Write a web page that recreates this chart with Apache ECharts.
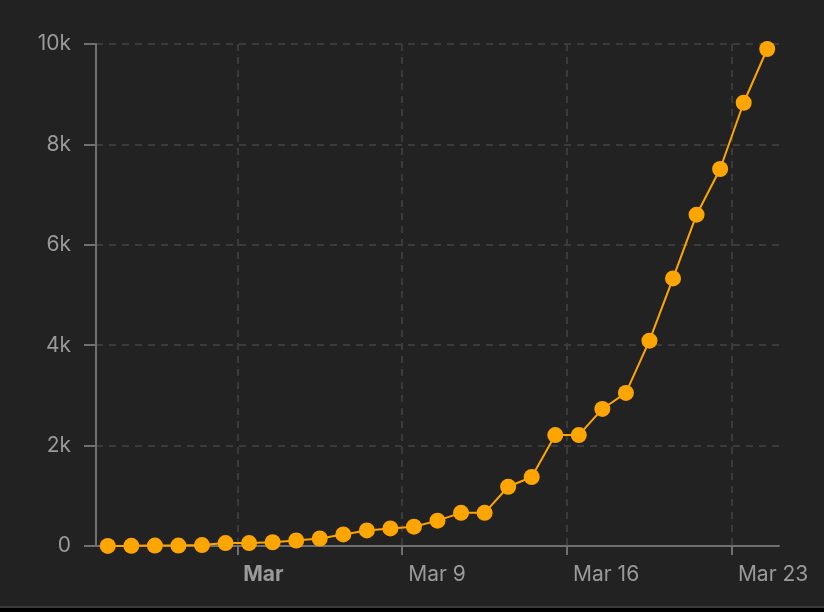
<!DOCTYPE html>
<html>
<head>
<meta charset="utf-8">
<script src="https://cdn.jsdelivr.net/npm/echarts@6/dist/echarts.min.js"></script>
<style>
  html, body { margin: 0; padding: 0; background: #222222; }
  #chart { width: 824px; height: 612px; }
</style>
</head>
<body>
<div id="chart"></div>
<script>
const dates = ['2020-02-25','2020-02-26','2020-02-27','2020-02-28','2020-02-29',
  '2020-03-01','2020-03-02','2020-03-03','2020-03-04','2020-03-05','2020-03-06','2020-03-07','2020-03-08',
  '2020-03-09','2020-03-10','2020-03-11','2020-03-12','2020-03-13','2020-03-14','2020-03-15',
  '2020-03-16','2020-03-17','2020-03-18','2020-03-19','2020-03-20','2020-03-21','2020-03-22',
  '2020-03-23','2020-03-24'];
const cases = [2, 3, 8, 8, 18, 58, 58, 75, 110, 150, 230, 310, 350, 385, 505, 660, 660,
  1180, 1375, 2210, 2210, 2730, 3050, 4090, 5330, 6600, 7510, 8830, 9900];
const xTickDates = ['2020-03-02','2020-03-09','2020-03-16','2020-03-23'];
const xTickLabels = ['Mar','Mar 9','Mar 16','Mar 23'];
const xRange = ['2020-02-25','2020-03-25'];
const yTicks = [0, 2000, 4000, 6000, 8000, 10000];
const yTickLabels = ['0','2k','4k','6k','8k','10k'];

const DAY = 86400000;
const t0 = Date.parse(xRange[0] + 'T00:00:00Z');
const dayOf = d => (Date.parse(d + 'T00:00:00Z') - t0) / DAY;   // days since start of axis
const seriesData = dates.map((d, i) => [dayOf(d) + 0.5, cases[i]]); // points at midday
const tickDays = xTickDates.map(dayOf);

const chart = echarts.init(document.getElementById('chart'));
const FONT = 'Inter, "Noto Sans", sans-serif';
const GRID = { color: '#3b3b3b', type: [7, 6], width: 2 };
const AXIS = { color: '#707070', width: 2 };
chart.setOption({
  backgroundColor: '#222222',
  animation: false,
  grid: { left: 96, right: 45, top: 44, bottom: 66, containLabel: false },
  xAxis: {
    type: 'value',
    min: dayOf(xRange[0]),
    max: dayOf(xRange[1]),
    axisLine: { show: true, onZero: false, lineStyle: AXIS },
    axisTick: { show: true, length: 9, customValues: tickDays, lineStyle: AXIS },
    axisLabel: {
      customValues: tickDays,
      align: 'left',
      margin: 18,
      padding: [0, 0, 0, 6],
      color: '#9a9a9a',
      fontFamily: FONT,
      fontSize: 21,
      formatter: function (v) {
        const i = tickDays.indexOf(v);
        const t = i >= 0 ? xTickLabels[i] : '';
        return i === 0 ? '{b|' + t + '}' : t;
      },
      rich: { b: { fontWeight: 'bold', color: '#9a9a9a', fontFamily: FONT, fontSize: 21 } }
    },
    splitLine: { show: true, lineStyle: GRID }
  },
  yAxis: {
    type: 'value',
    min: yTicks[0],
    max: yTicks[yTicks.length - 1],
    interval: yTicks[1] - yTicks[0],
    axisLine: { show: true, lineStyle: AXIS },
    axisTick: { show: true, length: 12, lineStyle: AXIS },
    axisLabel: {
      margin: 25,
      color: '#9a9a9a',
      fontFamily: FONT,
      fontSize: 21,
      formatter: function (v) {
        const i = yTicks.indexOf(v);
        return i >= 0 ? yTickLabels[i] : '';
      }
    },
    splitLine: { show: true, lineStyle: GRID }
  },
  series: [{
    type: 'line',
    data: seriesData,
    clip: false,
    symbol: 'circle',
    symbolSize: 16,
    showAllSymbol: true,
    itemStyle: { color: '#ffa500' },
    lineStyle: { color: '#ffa500', width: 2 }
  }],
  graphic: [
    { type: 'rect', left: 0, top: 606, shape: { width: 824, height: 2 }, style: { fill: '#3a3a3a' }, silent: true },
    { type: 'rect', left: 0, top: 608, shape: { width: 824, height: 4 }, style: { fill: '#000000' }, silent: true }
  ]
});
</script>
</body>
</html>
